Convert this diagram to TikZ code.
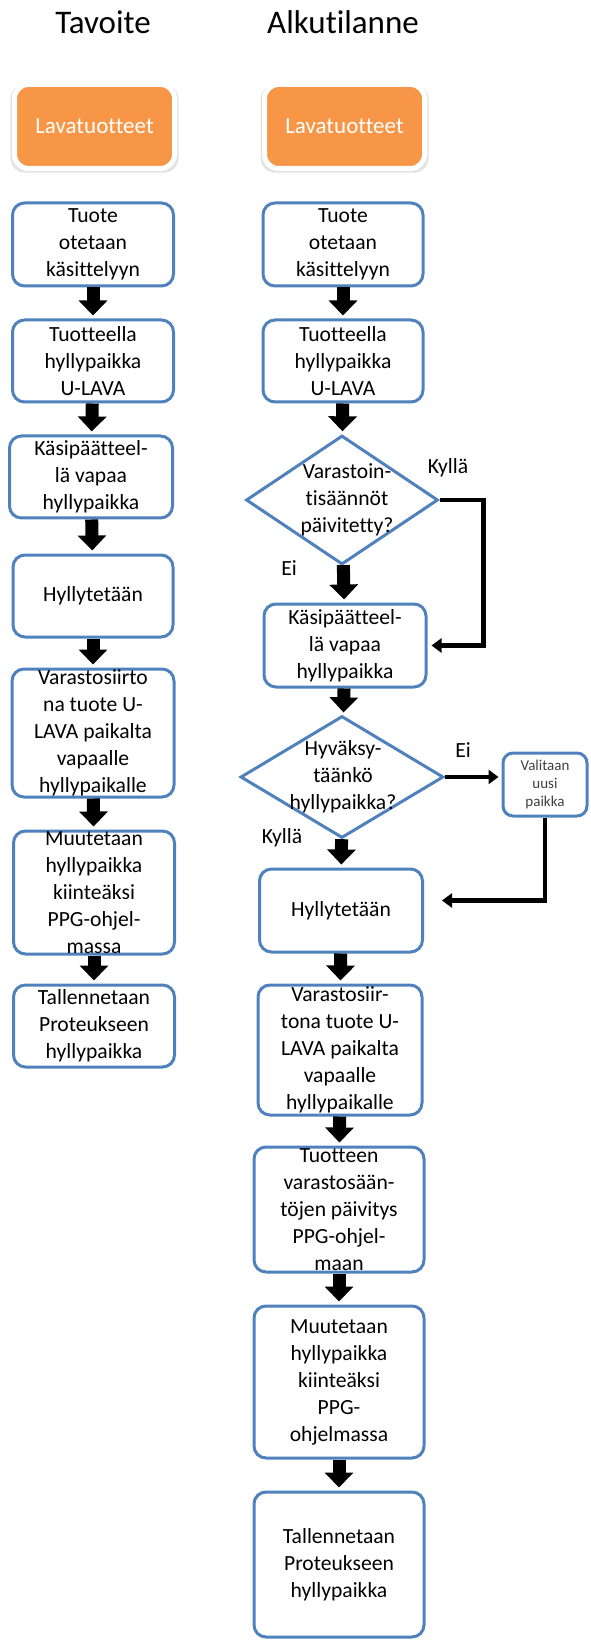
\documentclass[tikz,border=0pt]{standalone}
\usepackage{fontspec}
\setmainfont{Carlito}[Ligatures=NoCommon]
\usetikzlibrary{shapes.geometric,arrows.meta,shadows}
\definecolor{boxblue}{RGB}{79,129,189}
\definecolor{boxorange}{RGB}{247,150,70}

\begin{document}
\begin{tikzpicture}[x=0.5pt,y=-0.5pt,
	every node/.style={align=center,inner sep=0pt,font=\fontsize{10.8}{13.5}\selectfont},
	stepbox/.style={draw=boxblue,line width=1.5pt,rounded corners=6pt,fill=white},
	startbox/.style={draw=white,line width=2.5pt,fill=boxorange,rounded corners=7pt,text=white,
		font=\fontsize{11.5}{14}\selectfont,minimum width=80pt,minimum height=42pt,
		drop shadow={shadow xshift=0pt,shadow yshift=-1pt,shadow scale=1.05,opacity=0.22}},
	decision/.style={diamond,draw=boxblue,line width=1.5pt,fill=white},
	bigarrow/.style={line width=6.5pt,-{Triangle[width=14pt,length=7.5pt]},shorten >=1.5pt},
	thinarrow/.style={line width=2.25pt,-{Triangle[width=7pt,length=5pt]}},
	title/.style={font=\fontsize{16.5}{20}\selectfont,anchor=base}]
	\useasboundingbox (0,0) rectangle (590,1641);

	\node[title] (tgoal) at (103,34) {Tavoite};
	\node[title] (tnow) at (343,34) {Alkutilanne};

	\node[startbox] (ol) at (94.5,126.5) {Lavatuotteet};
	\node[startbox] (or) at (344.5,126.5) {Lavatuotteet};

	\node[stepbox,minimum width=80.5pt,minimum height=41.5pt] (lt1) at (93,244.5) {Tuote\\otetaan\\käsittelyyn};
	\node[stepbox,minimum width=80.5pt,minimum height=41pt] (lt2) at (93,361) {Tuotteella\\hyllypaikka\\U-LAVA};
	\node[stepbox,minimum width=81.5pt,minimum height=41pt] (lt3) at (91,477) {Käsipäätteel-\\lä vapaa\\hyllypaikka};
	\node[stepbox,minimum width=80pt,minimum height=41pt] (lt4) at (93,596) {Hyllytetään};
	\node[stepbox,minimum width=81pt,minimum height=64pt] (lt5) at (93,733) {Varastosiirto\\na tuote U-\\LAVA paikalta\\vapaalle\\hyllypaikalle};
	\node[stepbox,minimum width=80.5pt,minimum height=61.5pt] (lt6) at (94,892.5) {Muutetaan\\hyllypaikka\\kiinteäksi\\PPG-ohjel-\\massa};
	\node[stepbox,minimum width=80.5pt,minimum height=41pt] (lt7) at (94,1026) {Tallennetaan\\Proteukseen\\hyllypaikka};

	\node[stepbox,minimum width=80pt,minimum height=41.5pt] (rt1) at (343,244.5) {Tuote\\otetaan\\käsittelyyn};
	\node[stepbox,minimum width=80pt,minimum height=41pt] (rt2) at (343,361) {Tuotteella\\hyllypaikka\\U-LAVA};
	\node[decision,minimum width=96pt,minimum height=64.5pt] (d1) at (342,500) {};
	\node (d1t) at (347,500) {Varastoin-\\tisäännöt\\päivitetty?};
	\node[stepbox,minimum width=81pt,minimum height=41.5pt] (rt3) at (345,645.5) {Käsipäätteel-\\lä vapaa\\hyllypaikka};
	\node[decision,minimum width=101.5pt,minimum height=61pt] (d2) at (342,777) {};
	\node (d2t) at (343,777) {Hyväksy-\\täänkö\\hyllypaikka?};
	\node[stepbox,rounded corners=5pt,minimum width=42pt,minimum height=31.5pt,
		font=\fontsize{7.5}{9}\selectfont,text=black!75] (val) at (545,784.5) {Valitaan\\uusi\\paikka};
	\node[stepbox,minimum width=81.5pt,minimum height=41.5pt] (rt4) at (341,910.5) {Hyllytetään};
	\node[stepbox,minimum width=82pt,minimum height=65pt] (rt5) at (340,1050) {Varastosiir-\\tona tuote U-\\LAVA paikalta\\vapaalle\\hyllypaikalle};
	\node[stepbox,minimum width=85pt,minimum height=62.5pt] (rt6) at (339,1209.5) {Tuotteen\\varastosään-\\töjen päivitys\\PPG-ohjel-\\maan};
	\node[stepbox,minimum width=85pt,minimum height=76pt] (rt7) at (339,1382) {Muutetaan\\hyllypaikka\\kiinteäksi\\PPG-\\ohjelmassa};
	\node[stepbox,minimum width=85pt,minimum height=72.5pt] (rt8) at (339,1564.5) {Tallennetaan\\Proteukseen\\hyllypaikka};

	\node (yes1) at (448,468) {Kyllä};
	\node (no1) at (289,568) {Ei};
	\node (no2) at (463,750) {Ei};
	\node (yes2) at (282,838) {Kyllä};

	\path[bigarrow]
	(lt1) edge (lt2)
	(lt2) edge (lt3)
	(lt3) edge (lt4)
	(lt4) edge (lt5)
	(lt5) edge (lt6)
	(lt6) edge (lt7)
	(rt1) edge (rt2)
	(rt2) edge (d1)
	(d1) edge (rt3)
	(rt3) edge (d2)
	(d2) edge (rt4)
	(rt4) edge (rt5)
	(rt5) edge (rt6)
	(rt6) edge (rt7)
	(rt7) edge (rt8);

	\draw[thinarrow,shorten >=2pt] (d1.east) -- ++(44,0) |- (rt3.east);
	\draw[thinarrow,shorten >=1.5pt] (d2.east) -- (d2.east -| val.west);
	\draw[thinarrow,shorten >=9pt] (val.south) |- ([yshift=5pt]rt4.east);
\end{tikzpicture}
\end{document}
